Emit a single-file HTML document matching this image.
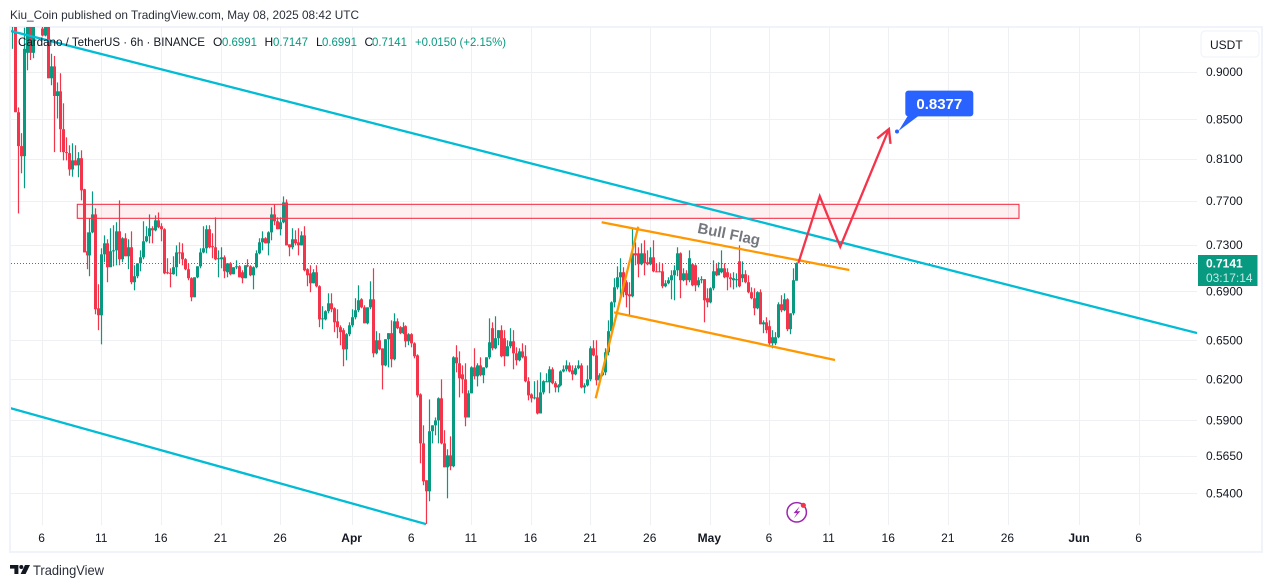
<!DOCTYPE html>
<html lang="en">
<head>
<meta charset="utf-8">
<title>Cardano / TetherUS 6h chart</title>
<style>
html,body{margin:0;padding:0;background:#fff;width:1273px;height:588px;overflow:hidden}
svg{display:block;position:absolute;left:0;top:0}
text{font-family:"Liberation Sans",sans-serif}
</style>
</head>
<body>
<svg id="chart" width="1273" height="588" viewBox="0 0 1273 588" xmlns="http://www.w3.org/2000/svg">
  <defs>
    <clipPath id="pane-clip"><rect x="11" y="27" width="1186" height="498"/></clipPath>
  </defs>
  <text x="10" y="19" font-size="12" fill="#2a2e39" textLength="349" lengthAdjust="spacingAndGlyphs">Kiu_Coin published on TradingView.com, May 08, 2025 08:42 UTC</text>
  <rect x="10" y="27" width="1252" height="525" fill="#fff" stroke="#f0f3fa" stroke-width="2"/>
  <g id="grid"></g>
  <g id="candles" clip-path="url(#pane-clip)"></g>
  <g id="drawings" clip-path="url(#pane-clip)"></g>
  <g id="price-axis"></g>
  <g id="time-axis"></g>
  <g font-size="12">
    <text x="18" y="46" fill="#131722" textLength="187" lengthAdjust="spacingAndGlyphs">Cardano / TetherUS · 6h · BINANCE</text>
    <text x="213" y="46" fill="#131722">O</text>
    <text x="222" y="46" fill="#089981" textLength="35" lengthAdjust="spacingAndGlyphs">0.6991</text>
    <text x="264.5" y="46" fill="#131722">H</text>
    <text x="273" y="46" fill="#089981" textLength="35" lengthAdjust="spacingAndGlyphs">0.7147</text>
    <text x="316" y="46" fill="#131722">L</text>
    <text x="322" y="46" fill="#089981" textLength="35" lengthAdjust="spacingAndGlyphs">0.6991</text>
    <text x="364.5" y="46" fill="#131722">C</text>
    <text x="372" y="46" fill="#089981" textLength="35" lengthAdjust="spacingAndGlyphs">0.7141</text>
    <text x="415" y="46" fill="#089981" textLength="91" lengthAdjust="spacingAndGlyphs">+0.0150 (+2.15%)</text>
  </g>
  <g>
    <rect x="1201" y="31" width="58" height="26" rx="4" fill="#fff" stroke="#f0f3fa" stroke-width="1.2"/>
    <text x="1210" y="49" font-size="12" fill="#131722">USDT</text>
  </g>
  <g id="last-price">
    <rect x="1198" y="255" width="59.5" height="31" fill="#089981"/>
    <text x="1206" y="267.5" font-size="12" font-weight="700" fill="#fff">0.7141</text>
    <text x="1206" y="282" font-size="12" fill="#fff" fill-opacity="0.78" textLength="46.5" lengthAdjust="spacingAndGlyphs">03:17:14</text>
  </g>
  <g>
    <path d="M10 565h8.4v9h-4v-5.4h-4.4z" fill="#131722"/>
    <circle cx="21.3" cy="567" r="2" fill="#131722"/>
    <path d="M25 565h5l-4.4 9h-5z" fill="#131722"/>
    <text x="33" y="575" font-size="14" fill="#2a2e39" textLength="71" lengthAdjust="spacingAndGlyphs">TradingView</text>
  </g>
</svg>
<script>
// ---- chart data ----
const firstCandleDay = -2.5; // days relative to Mar 6 00:00
const candleStepDays = 0.25; // 6h bars
const opens = [
.965,.96,.8575,.823,.813,.9215,.96,.9215,.96,.99,
.949,.941,.955,.8935,.9065,.8745,.8795,.84,.817,.816,
.800,.8089,.804,.811,.781,.7245,.7209,.7413,.7576,.6761,
.6704,.7218,.7315,.7106,.7245,.7253,.7422,.7175,.736,.7201,
.728,.6978,.7029,.714,.7192,.7333,.7378,.745,.7431,.7522,
.7468,.7441,.7063,.7058,.7046,.7106,.7235,.7235,.7175,.7089,
.7012,.6852,.702,.7114,.7235,.7271,.7441,.729,.728,.7175,
.7175,.7192,.7063,.714,.7046,.7106,.7114,.7063,.7012,.7123,
.7114,.7037,.7106,.7227,.7324,.736,.7315,.7413,.7576,.7513,
.7441,.7504,.7687,.7306,.728,.7351,.7324,.7297,.7386,.7089,
.7054,.6969,.7063,.6944,.6671,.6671,.6737,.6802,.6761,.6655,
.6608,.6584,.6433,.6552,.6623,.6688,.6745,.6835,.6769,.6639,
.6769,.6835,.6402,.6504,.644,.6309,.6512,.656,.6356,.6655,
.6608,.656,.6616,.6496,.6552,.648,.6386,.6091,.574,.5489,
.5416,.5825,.5867,.5902,.6062,.574,.5576,.5657,.5583,.6371,
.6325,.6241,.6203,.5923,.6099,.6294,.6226,.6309,.6234,.6294,
.6371,.66,.6441,.652,.6584,.652,.6379,.6457,.6496,.6402,
.6348,.6417,.6379,.6189,.6091,.6062,.6069,.5952,.6106,.6181,
.6181,.6279,.6174,.6143,.6158,.6263,.6279,.6309,.6271,.6241,
.6287,.6309,.6143,.6158,.6203,.6441,.6386,.6196,.6234,.6256,
.641,.6576,.681,.6935,.702,.7063,.6978,.6877,.686,.7227,
.7227,.7132,.7227,.7149,.7132,.7192,.7071,.7071,.7071,.6944,
.6969,.6995,.7037,.708,.7227,.6995,.7054,.6995,.7132,.7123,
.6952,.6995,.7004,.6844,.681,.6927,.7071,.7037,.7063,.7097,
.7063,.702,.6995,.6995,.7157,.7012,.7046,.6978,.6894,.6844,
.6761,.6894,.6631,.6647,.6616,.648,.648,.6528,.6794,.6745,
.6835,.6592,.672,.6991];
const highs = [
.98,.98,.8625,.836,.95,.97,.97,.97,1.0,1.0,
.96,.96,.96,.9205,.918,.889,.899,.8668,.8318,.8238,
.8258,.8238,.817,.8188,.7815,.7413,.754,.779,.7632,.6961,
.7271,.7386,.7351,.745,.7477,.7504,.7706,.7369,.7405,.7351,
.7422,.7123,.714,.7253,.7513,.7468,.7576,.7468,.7567,.7594,
.7495,.745,.7184,.7097,.7201,.7297,.7324,.7315,.7184,.714,
.702,.702,.7114,.7271,.7468,.7477,.7477,.7405,.7549,.7253,
.728,.7209,.714,.7149,.7106,.7166,.7123,.708,.7123,.7175,
.7123,.7114,.7253,.736,.7422,.7369,.7422,.7641,.7669,.7549,
.7549,.7743,.7715,.7306,.745,.7431,.745,.7422,.7468,.7097,
.7123,.7089,.7123,.6952,.6778,.6745,.6885,.6885,.6769,.6753,
.6623,.66,.656,.6647,.6753,.6844,.6952,.6844,.6786,.6769,
.6986,.7097,.6576,.656,.6441,.6512,.656,.6663,.672,.6679,
.6616,.6647,.6623,.656,.656,.6488,.6394,.6099,.5867,.5489,
.6054,.5867,.5923,.6069,.6203,.5832,.5699,.5789,.6379,.6465,
.6417,.6309,.6325,.6121,.6302,.6441,.6325,.6371,.6294,.6371,
.6679,.6647,.6696,.6584,.6623,.6584,.6504,.66,.6584,.6449,
.6441,.648,.6465,.6219,.6099,.6189,.6196,.6256,.6196,.6249,
.6302,.6294,.6189,.6166,.6271,.6309,.6348,.6332,.6309,.6309,
.6348,.6325,.6174,.6309,.6457,.6504,.6504,.6249,.6271,.6441,
.6663,.6818,.7012,.7114,.7184,.7106,.6995,.6978,.7459,.7324,
.728,.7315,.7342,.7253,.728,.7342,.714,.7149,.714,.6995,
.702,.708,.7123,.728,.7235,.7097,.708,.7253,.714,.7132,
.702,.7029,.7004,.6927,.6935,.7166,.714,.7149,.7253,.714,
.7097,.7054,.7063,.7054,.7297,.7157,.708,.7037,.6935,.6927,
.6902,.6918,.6663,.6688,.6663,.6584,.6568,.681,.6869,.6885,
.6844,.672,.7097,.7147];
const lows = [
.926,.8575,.7585,.7963,.782,.9022,.9135,.9155,.96,.97,
.94,.94,.8935,.886,.817,.851,.817,.8089,.8089,.794,
.793,.804,.7925,.7706,.7235,.7089,.7029,.7405,.6712,.6584,
.6472,.7149,.6978,.7106,.7114,.7123,.7123,.7149,.7201,.7089,
.6961,.691,.7012,.7071,.7175,.7324,.7315,.7315,.7422,.745,
.7333,.7046,.7046,.6935,.7042,.7029,.714,.7123,.708,.6995,
.6819,.6852,.7012,.7097,.7227,.7227,.7271,.7184,.7166,.702,
.7097,.7012,.702,.7037,.7046,.7089,.702,.6969,.7012,.7106,
.7029,.6918,.7097,.7218,.7253,.7315,.7209,.7342,.7477,.7441,
.7386,.7495,.7297,.7201,.7262,.7297,.7209,.7297,.7071,.6944,
.6894,.6969,.6935,.6608,.6592,.6663,.672,.6729,.6568,.652,
.6465,.6302,.6348,.6536,.6608,.6671,.6729,.6761,.6639,.6631,
.6753,.6371,.6394,.6425,.6128,.6302,.6294,.6294,.6348,.6592,
.6552,.6552,.6449,.6465,.6449,.6363,.6069,.5603,.5456,.5205,
.5351,.574,.5796,.574,.5733,.5576,.537,.5556,.5576,.6256,
.6069,.6099,.586,.5923,.6099,.6203,.615,.6226,.6174,.6287,
.6356,.6425,.6433,.6465,.6371,.6302,.6379,.6441,.6279,.6309,
.634,.6363,.6181,.6047,.6032,.6054,.5945,.5952,.6091,.6181,
.6099,.6166,.6106,.6106,.615,.6256,.6263,.6256,.6196,.6234,
.6279,.6136,.6099,.615,.6189,.6379,.6158,.6158,.6226,.6234,
.6386,.656,.6769,.6918,.6852,.6852,.6769,.6704,.6852,.7123,
.702,.7123,.7037,.7123,.7123,.7063,.7063,.7063,.6927,.6935,
.6961,.6835,.6827,.7029,.6844,.6986,.6952,.6978,.6944,.6902,
.6935,.6969,.6647,.6769,.6802,.691,.7029,.7037,.7054,.7012,
.691,.6935,.6918,.6935,.6935,.6978,.6969,.6885,.6835,.6704,
.6753,.6631,.656,.656,.6465,.6441,.6465,.652,.6729,.6737,
.6576,.6552,.6704,.6991];
const closes = [
.975,.8575,.823,.813,.926,.96,.9215,.96,.99,.98,
.941,.955,.8935,.9065,.8745,.8795,.84,.817,.816,.800,
.8089,.804,.811,.780,.7235,.7209,.7413,.7576,.6753,.6704,
.7218,.7315,.7106,.7245,.7253,.7422,.7175,.736,.7201,.728,
.6978,.7029,.714,.7192,.7333,.7378,.745,.7431,.7522,.7459,
.7441,.7054,.7054,.705,.7106,.7235,.7227,.7175,.7089,.7012,
.6852,.702,.7114,.7235,.7271,.7441,.728,.728,.7175,.7184,
.7192,.7071,.714,.7046,.7106,.7114,.702,.7012,.7123,.7114,
.7037,.7106,.7227,.7324,.736,.7315,.7413,.7576,.7513,.7441,
.7504,.7687,.7297,.728,.7351,.7315,.7297,.7386,.708,.7037,
.6969,.7063,.6944,.6671,.6679,.6737,.6802,.6753,.6647,.6608,
.6568,.6433,.6552,.6623,.6688,.6745,.6827,.6769,.6639,.6769,
.6835,.6402,.6504,.6433,.6309,.6512,.656,.6356,.6655,.66,
.656,.6608,.6496,.6552,.648,.6379,.6084,.574,.5482,.5416,
.5825,.5867,.5902,.6062,.574,.5576,.5657,.5583,.6371,.6325,
.6211,.6203,.5923,.6099,.6294,.6226,.6309,.6234,.6294,.6371,
.6488,.6441,.652,.6584,.6379,.6379,.6457,.6496,.6402,.6348,
.6417,.6371,.6189,.6084,.6062,.6069,.5952,.6106,.6189,.6189,
.6279,.6174,.6143,.6158,.6263,.6279,.6309,.6263,.6241,.6287,
.6309,.6143,.6158,.6203,.6441,.6386,.6196,.6234,.6256,.641,
.6576,.681,.6935,.702,.7063,.6894,.6869,.686,.7227,.7209,
.7132,.7227,.714,.7132,.7192,.7071,.7065,.7065,.6944,.6969,
.6995,.7037,.708,.7227,.6995,.7054,.6995,.7184,.6952,.6952,
.6995,.7004,.6827,.681,.6927,.7071,.7037,.7097,.7097,.702,
.702,.7004,.7012,.7004,.6944,.7046,.6978,.6894,.6844,.6761,
.6894,.6631,.6647,.6584,.648,.6528,.6528,.6794,.6745,.6835,
.6592,.672,.6995,.7141];
const priceTicks = [0.9, 0.85, 0.81, 0.77, 0.73, 0.69, 0.65, 0.62, 0.59, 0.565, 0.54];
const timeTickLabels = ['6','11','16','21','26','Apr','6','11','16','21','26','May','6','11','16','21','26','Jun','6'];
const timeTickDays = [0,5,10,15,20,26,31,36,41,46,51,56,61,66,71,76,81,87,92];
const lastPrice = 0.7141;
const channelUpperDays = [-2.625, 96.84];
const channelUpperPrices = [0.9462, 0.6561];
const channelLowerDays = [-2.71, 32.18];
const channelLowerPrices = [0.5991, 0.5205];
const zoneDays = [2.935, 81.91];
const zonePrices = [0.7669, 0.754];
const flagTopDays = [46.91, 67.68];
const flagTopPrices = [0.7504, 0.7082];
const flagBottomDays = [47.95, 66.48];
const flagBottomPrices = [0.6728, 0.635];
const flagPoleDays = [46.41, 49.98];
const flagPolePrices = [0.6062, 0.7464];
const projectionDays = [63.4, 65.2, 66.92, 71.0];
const projectionPrices = [0.714, 0.7744, 0.7285, 0.8402];
const targetDay = 71.68;
const targetPrice = 0.8377;
const flagLabelDay = 57.57;
const flagLabelPrice = 0.7388;
const eventDay = 63.27;

// ---- axes ----
const NS = 'http://www.w3.org/2000/svg';
const GREEN = '#089981', RED = '#f4344a', CYAN = '#00bcd4', ORANGE = '#ff9800', BLUE = '#2962ff';
function xOfDay(d){ return 42.3 + d * 11.924; }
function yOfPrice(p){ return 72.3 + 825 * Math.log(0.9 / p); }
function snap(v){ return Math.floor(v) + 0.5; }
function make(tag, attrs, parent){
  const el = document.createElementNS(NS, tag);
  for (const k in attrs) el.setAttribute(k, attrs[k]);
  parent.appendChild(el);
  return el;
}
const grid = document.getElementById('grid');
const priceAxis = document.getElementById('price-axis');
const timeAxis = document.getElementById('time-axis');
const candlesG = document.getElementById('candles');
const drawings = document.getElementById('drawings');

priceTicks.forEach(function(p){
  const y = yOfPrice(p);
  const line = make('line', {x1:11, x2:1197, y1:snap(y), y2:snap(y), stroke:'#eff0f3', 'stroke-width':1}, grid);
  
  
  const label = make('text', {x:1206, y:y + 3.8, 'font-size':12, fill:'#131722'}, priceAxis);
  
  
  label.textContent = p.toFixed(4);
});
timeTickDays.forEach(function(d, i){
  const x = xOfDay(d);
  const line = make('line', {x1:snap(x), x2:snap(x), y1:27, y2:525, stroke:'#eff0f3', 'stroke-width':1}, grid);
  
  
  const isMonth = isNaN(Number(timeTickLabels[i]));
  const label = make('text', {x:x - 0.7, y:542, 'font-size':12, fill:'#131722', 'text-anchor':'middle', 'font-weight':isMonth ? 700 : 400}, timeAxis);
  
  
  label.textContent = timeTickLabels[i];
});

// ---- last price dotted line ----
const priceLineY = snap(yOfPrice(lastPrice));
const priceLine = make('line', {x1:11, x2:1197, y1:priceLineY, y2:priceLineY, stroke:GREEN, 'stroke-width':1, 'stroke-dasharray':'1 2'}, grid);



// ---- candles ----
closes.forEach(function(c, i){
  const o = opens[i], h = highs[i], l = lows[i];
  const color = c >= o ? GREEN : RED;
  const cx = Math.round(xOfDay(firstCandleDay + i * candleStepDays) - 0.5);
  const top = yOfPrice(Math.max(o, c));
  const bottom = yOfPrice(Math.min(o, c));
  const wick = make('rect', {x:cx - 0.1, y:yOfPrice(h), width:1.2, height:Math.max(1, yOfPrice(l) - yOfPrice(h)), fill:color}, candlesG);
  
  
  const body = make('rect', {x:cx - 1, y:top, width:3, height:Math.max(1, bottom - top), fill:color}, candlesG);
  
  
});

// ---- drawings ----
function polyPoints(days, prices){
  return days.map(function(d, i){ return xOfDay(d) + ',' + yOfPrice(prices[i]); }).join(' ');
}
const zone = make('rect', {x:xOfDay(zoneDays[0]), y:yOfPrice(zonePrices[0]), width:xOfDay(zoneDays[1]) - xOfDay(zoneDays[0]), height:yOfPrice(zonePrices[1]) - yOfPrice(zonePrices[0]), fill:RED, 'fill-opacity':0.08, stroke:RED, 'stroke-width':1.1}, drawings);



const upper = make('polyline', {points:polyPoints(channelUpperDays, channelUpperPrices), fill:'none', stroke:CYAN, 'stroke-width':2.3}, drawings);


const lower = make('polyline', {points:polyPoints(channelLowerDays, channelLowerPrices), fill:'none', stroke:CYAN, 'stroke-width':2.3}, drawings);


const flagTop = make('polyline', {points:polyPoints(flagTopDays, flagTopPrices), fill:'none', stroke:ORANGE, 'stroke-width':2.3}, drawings);


const flagBottom = make('polyline', {points:polyPoints(flagBottomDays, flagBottomPrices), fill:'none', stroke:ORANGE, 'stroke-width':2.3}, drawings);


const flagPole = make('polyline', {points:polyPoints(flagPoleDays, flagPolePrices), fill:'none', stroke:ORANGE, 'stroke-width':2.3}, drawings);



const flagLabelX = xOfDay(flagLabelDay), flagLabelY = yOfPrice(flagLabelPrice);
const flagLabel = make('text', {x:flagLabelX, y:flagLabelY, 'font-size':15, 'font-weight':700, fill:'#75777f', 'text-anchor':'middle', 'dominant-baseline':'middle', transform:'rotate(11.5 ' + flagLabelX + ' ' + flagLabelY + ')'}, drawings);


flagLabel.textContent = 'Bull Flag';

const projection = make('polyline', {points:polyPoints(projectionDays, projectionPrices), fill:'none', stroke:RED, 'stroke-width':2.3, 'stroke-linejoin':'miter'}, drawings);



const n = projectionDays.length - 1;
const tipX = xOfDay(projectionDays[n]), tipY = yOfPrice(projectionPrices[n]);
const prevX = xOfDay(projectionDays[n - 1]), prevY = yOfPrice(projectionPrices[n - 1]);
const ang = Math.atan2(prevY - tipY, prevX - tipX);
const wingPts = [ang + 0.5, ang - 0.5].map(function(a){ return (tipX + 15 * Math.cos(a)) + ',' + (tipY + 15 * Math.sin(a)); });
const head = make('polyline', {points:wingPts[0] + ' ' + tipX + ',' + tipY + ' ' + wingPts[1], fill:'none', stroke:RED, 'stroke-width':2.3}, drawings);



const tx = xOfDay(targetDay), ty = yOfPrice(targetPrice);
const targetDot = make('circle', {cx:tx, cy:ty, r:2, fill:BLUE}, drawings);


const targetTail = make('polygon', {points:(tx + 11) + ',' + (ty - 16) + ' ' + (tx + 22) + ',' + (ty - 16) + ' ' + (tx + 1.5) + ',' + (ty - 0.5), fill:BLUE}, drawings);


const targetBox = make('rect', {x:tx + 8.3, y:ty - 40.8, width:68, height:25.7, rx:3, fill:BLUE}, drawings);


const targetText = make('text', {x:tx + 42.3, y:ty - 22.7, 'font-size':15, 'font-weight':700, fill:'#fff', 'text-anchor':'middle'}, drawings);


targetText.textContent = targetPrice.toFixed(4);

// ---- event marker ----
const ex = xOfDay(eventDay), ey = 512.3;
const eventRing = make('circle', {cx:ex, cy:ey, r:9.7, fill:'#fff', stroke:'#9c27b0', 'stroke-width':1.5}, drawings);


const eventBolt = make('path', {d:'M' + (ex + 3) + ' ' + (ey - 6) + 'l-6.2 6.8h3.4l-3 5.2 6.4-7h-3.4z', fill:'#9c27b0'}, drawings);


const eventDot = make('circle', {cx:ex + 6.6, cy:ey - 7, r:2.6, fill:RED}, drawings);



// keep the last-price tag above the axis labels
document.getElementById('chart').appendChild(document.getElementById('last-price'));
</script>
</body>
</html>
